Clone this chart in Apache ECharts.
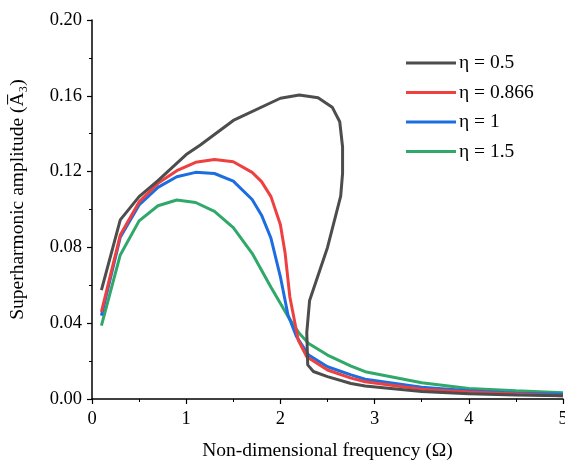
<!DOCTYPE html>
<html>
<head>
<meta charset="utf-8">
<script src="https://cdn.jsdelivr.net/npm/echarts@6/dist/echarts.min.js"></script>
<style>html,body{margin:0;padding:0;background:#fff}#c{width:565px;height:464px}</style>
</head>
<body>
<div id="c"></div>
<script>
var seriesNames = ['η = 0.5', 'η = 0.866', 'η = 1', 'η = 1.5'];
var blackX = [0.1,0.3,0.5,0.7,1.0,1.15,1.5,2.0,2.2,2.4,2.55,2.63,2.66,2.66,2.64,2.5,2.31,2.28,2.29,2.35,2.5,2.75,2.9,3.5,4,4.5,5];
var blackY = [0.0575,0.0945,0.1068,0.1152,0.129,0.134,0.147,0.1587,0.1604,0.1590,0.1540,0.1463,0.133,0.119,0.107,0.080,0.052,0.035,0.018,0.0145,0.0118,0.0082,0.0069,0.0039,0.0028,0.0021,0.0017];
var redX = [0.1,0.3,0.5,0.7,0.9,1.1,1.3,1.5,1.7,1.8,1.9,2.0,2.05,2.1,2.19,2.28,2.5,2.75,2.9,3.5,4,4.5,5];
var redY = [0.046,0.0865,0.104,0.1138,0.1205,0.1249,0.1264,0.1252,0.1196,0.1147,0.1068,0.092,0.077,0.054,0.031,0.0223,0.0153,0.011,0.0091,0.0051,0.0037,0.0026,0.0017];
var blueX = [0.1,0.3,0.5,0.7,0.9,1.1,1.3,1.5,1.7,1.8,1.9,2.0,2.08,2.17,2.3,2.5,2.75,2.9,3.5,4,4.5,5];
var blueY = [0.044,0.0853,0.1024,0.1117,0.1173,0.1196,0.119,0.115,0.1053,0.097,0.0848,0.0645,0.0445,0.033,0.0232,0.017,0.0127,0.0104,0.0062,0.0044,0.003,0.0025];
var greenX = [0.1,0.3,0.5,0.7,0.9,1.1,1.3,1.5,1.7,1.9,2.1,2.2,2.3,2.5,2.75,2.9,3.5,4,4.5,5];
var greenY = [0.0387,0.076,0.094,0.102,0.105,0.1037,0.099,0.0904,0.0769,0.059,0.042,0.0347,0.0293,0.0232,0.0174,0.0144,0.0086,0.0056,0.0044,0.0033];
var colors = ['#4d4d4d', '#ef4040', '#1c6ee0', '#2fa86a'];

function pairs(xs, ys) { return xs.map(function (x, i) { return [x, ys[i]]; }); }
var allX = [blackX, redX, blueX, greenX];
var allY = [blackY, redY, blueY, greenY];

var font = 'Liberation Serif, Times New Roman, serif';
var chart = echarts.init(document.getElementById('c'), null, {renderer: 'canvas'});
chart.setOption({
  animation: false,
  backgroundColor: '#fff',
  textStyle: {fontFamily: font},
  grid: {left: 92, right: 2, top: 20, bottom: 65, containLabel: false, outerBoundsMode: 'none'},
  legend: {
    left: 406, top: 53, padding: 0, orient: 'vertical', itemWidth: 50, itemHeight: 3, itemGap: 9.5,
    icon: 'rect',
    textStyle: {fontFamily: font, fontSize: 19.5, color: '#000', padding: [0, 0, 0, -2]},
    data: seriesNames
  },
  xAxis: {
    type: 'value', min: 0, max: 5, interval: 1,
    name: 'Non-dimensional frequency (Ω)', nameLocation: 'middle', nameGap: 42,
    nameTextStyle: {fontFamily: font, fontSize: 19.5, color: '#000'},
    axisLine: {lineStyle: {color: '#000', width: 1.5}},
    axisTick: {inside: false, length: 5, lineStyle: {color: '#000', width: 1.2}},
    minorTick: {show: true, splitNumber: 2, length: 3, lineStyle: {color: '#000', width: 1}},
    axisLabel: {fontFamily: font, fontSize: 18.5, color: '#000', margin: 11},
    splitLine: {show: false}
  },
  yAxis: {
    type: 'value', min: 0, max: 0.2, interval: 0.04,
    name: 'Superharmonic amplitude (A\u0305\u2083)', nameLocation: 'middle', nameGap: 64,
    nameTextStyle: {fontFamily: font, fontSize: 19.5, color: '#000', padding: [0, 0, 0, 20]},
    axisLine: {lineStyle: {color: '#000', width: 1.5}},
    axisTick: {inside: false, length: 5, lineStyle: {color: '#000', width: 1.2}},
    minorTick: {show: true, splitNumber: 2, length: 3, lineStyle: {color: '#000', width: 1}},
    axisLabel: {fontFamily: font, fontSize: 18.5, color: '#000', margin: 10,
      formatter: function (v) { return v.toFixed(2); }},
    splitLine: {show: false}
  },
  series: seriesNames.map(function (n, i) {
    return {
      name: n, type: 'line', symbol: 'none', smooth: false,
      data: pairs(allX[i], allY[i]),
      lineStyle: {color: colors[i], width: 3},
      itemStyle: {color: colors[i]},
      z: 10 - i
    };
  })
});
</script>
</body>
</html>
